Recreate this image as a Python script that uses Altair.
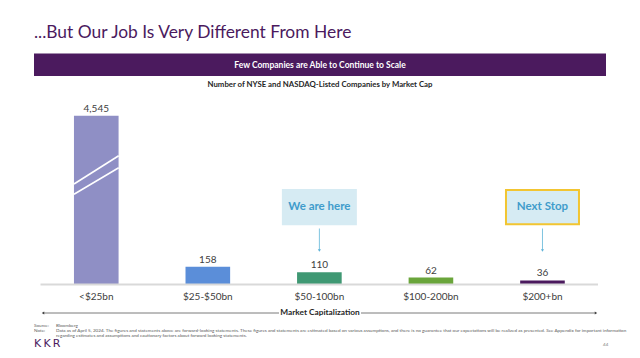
import altair as alt
import pandas as pd

# ---- data ----
categories = ["<$25bn", "$25-$50bn", "$50-100bn", "$100-200bn", "$200+bn"]
counts = [4545, 158, 110, 62, 36]
bar_colors = ["#8f8fc5", "#5b8ed9", "#3f9873", "#6aa53b", "#4b1a5e"]

callout_cats = ["$50-100bn", "$200+bn"]
callout_texts = ["We are here", "Next Stop"]
callout_borders = ["#d6ebf3", "#f2c531"]

title_text = "...But Our Job Is Very Different From Here"
banner_text = "Few Companies are Able to Continue to Scale"
subtitle_text = "Number of NYSE and NASDAQ-Listed Companies by Market Cap"
axis_text = "Market Capitalization"
note_line1 = ("Data as of April 5, 2024. The figures and statements above are forward-looking statements. "
              "These figures and statements are estimated based on various assumptions, and there is no guarantee "
              "that our expectations will be realized as presented. See Appendix for important information")
note_line2 = "regarding estimates and assumptions and cautionary factors about forward looking statements."

FONT = "Lato"
PURPLE = "#4b1a5e"

df = pd.DataFrame({"cat": categories, "count": counts})
dfc = pd.DataFrame({"cat": callout_cats, "txt": callout_texts, "border": callout_borders})
one = pd.DataFrame({"a": [0]})
zero = pd.DataFrame({"z": [0]})

xscale = alt.Scale(domain=categories, range=[32.5, 590.25], paddingInner=0.6, paddingOuter=0.3)
yscale = alt.Scale(domain=[0, 1510], range=[276.5, 107.7], clamp=True)

X = alt.X("cat:N", scale=xscale, axis=None, sort=categories)
Y = alt.Y("count:Q", scale=yscale, axis=None)

bars = alt.Chart(df).mark_bar().encode(
    x=X, y=Y,
    color=alt.Color("cat:N", scale=alt.Scale(domain=categories, range=bar_colors), legend=None),
)

values = alt.Chart(df).mark_text(font=FONT, fontSize=10, color="#404040", baseline="bottom", dy=-2).encode(
    x=X, y=Y, text=alt.Text("count:Q", format=",")
)

cat_labels = alt.Chart(df).mark_text(font=FONT, fontSize=10, color="#404040", baseline="middle").encode(
    x=X, y=alt.value(289.3), text="cat:N"
)

baseline = alt.Chart(zero).mark_rule(color="#d9d9d9", strokeWidth=2).encode(
    x=alt.value(32.5), x2=alt.value(590), y=alt.Y("z:Q", scale=yscale, axis=None)
)

# break marks on the truncated bar
breaks = alt.layer(
    alt.Chart(one).mark_rule(color="white", strokeWidth=1.6).encode(
        x=alt.value(66), x2=alt.value(110.7), y=alt.value(176), y2=alt.value(147.7)),
    alt.Chart(one).mark_rule(color="white", strokeWidth=1.6).encode(
        x=alt.value(66), x2=alt.value(110.7), y=alt.value(186.3), y2=alt.value(159.7)),
)

# callout boxes: rectangle symbol 73 x 34 px
box_path = "M-1,-0.47H1V0.47H-1Z"
boxes = alt.Chart(dfc).mark_point(shape=box_path, size=73 * 73, filled=True, fill="#d6ebf3",
                                  opacity=1, fillOpacity=1, strokeWidth=2).encode(
    x=alt.X("cat:N", scale=xscale, axis=None, sort=categories),
    y=alt.value(199.2),
    stroke=alt.Stroke("border:N", scale=None),
)
box_text = alt.Chart(dfc).mark_text(font=FONT, fontSize=11.5, fontWeight="bold", color="#3f9ccb").encode(
    x=alt.X("cat:N", scale=xscale, axis=None, sort=categories),
    y=alt.value(199.3), text="txt:N",
)
arrows = alt.Chart(dfc).mark_rule(color="#7fc4e0", strokeWidth=1).encode(
    x=alt.X("cat:N", scale=xscale, axis=None, sort=categories),
    y=alt.value(220.5), y2=alt.value(242),
)
arrow_heads = alt.Chart(dfc).mark_point(shape="triangle-down", filled=True, size=10, color="#5fb3d8", opacity=1).encode(
    x=alt.X("cat:N", scale=xscale, axis=None, sort=categories),
    y=alt.value(242.5),
)

def txt(text, x, y, size, color="#262626", weight="normal", align="left", font=FONT):
    return alt.Chart(one).mark_text(text=text, font=font, fontSize=size, color=color, fontWeight=weight,
                                    align=align, baseline="middle").encode(x=alt.value(x), y=alt.value(y))

title = txt(title_text, 26, 24.5, 17.4, color=PURPLE)
banner = alt.Chart(one).mark_rect(color=PURPLE).encode(
    x=alt.value(26), x2=alt.value(598), y=alt.value(45.5), y2=alt.value(68))
banner_t = txt(banner_text, 312, 57, 8.5, color="white", weight="bold", align="center")
subtitle = txt(subtitle_text, 312, 76.5, 7.8, color="#262626", weight="bold", align="center")

axis_label = txt(axis_text, 312, 305, 8.3, color="#262626", weight="bold", align="center")
axis_l1 = alt.Chart(one).mark_rule(color="#595959", strokeWidth=0.8).encode(
    x=alt.value(35), x2=alt.value(271), y=alt.value(305))
axis_l2 = alt.Chart(one).mark_rule(color="#595959", strokeWidth=0.8).encode(
    x=alt.value(353), x2=alt.value(588), y=alt.value(305))
axis_a1 = alt.Chart(one).mark_point(shape="triangle-left", filled=True, size=8, color="#404040", opacity=1).encode(
    x=alt.value(35), y=alt.value(305))
axis_a2 = alt.Chart(one).mark_point(shape="triangle-right", filled=True, size=8, color="#404040", opacity=1).encode(
    x=alt.value(588), y=alt.value(305))

foot = [
    txt("Source:", 26, 318, 4.6, color="#595959"),
    txt("Bloomberg", 48, 318, 4.6, color="#595959"),
    txt("Note:", 26, 323, 4.6, color="#595959"),
    txt(note_line1, 48, 323, 4.6, color="#595959"),
    txt(note_line2, 48, 328, 4.6, color="#595959"),
    txt("K\u2009K\u2009R", 26, 335.5, 11, color=PURPLE, font="DejaVu Sans"),
    txt("44", 595, 337, 4.6, color="#7f7f7f"),
]

chart = alt.layer(
    title, banner, banner_t, subtitle,
    bars, breaks, baseline, values, cat_labels,
    boxes, box_text, arrows, arrow_heads,
    axis_l1, axis_l2, axis_a1, axis_a2, axis_label, *foot,
).properties(
    width=624, height=342,
    autosize=alt.AutoSizeParams(type="none"),
    padding=0,
    background="white",
).configure_view(stroke=None)

chart.save("out.html", embed_options={"renderer": "svg", "actions": False})
